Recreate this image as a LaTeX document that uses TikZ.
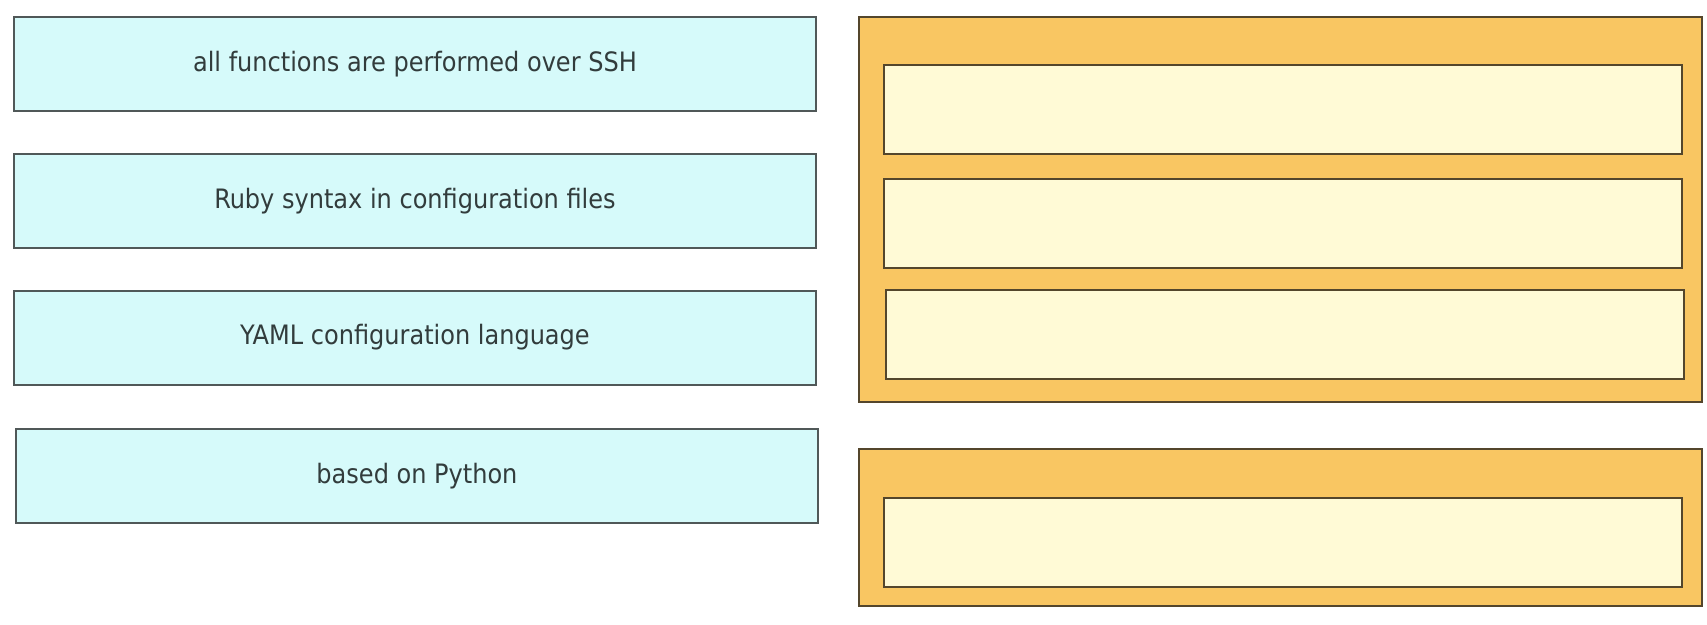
\documentclass[tikz,border=0pt]{standalone}
\usepackage{fontspec}
\setmainfont{DejaVu Sans Condensed}
\usetikzlibrary{calc}

\definecolor{optfill}{RGB}{214,250,250}
\definecolor{optline}{RGB}{80,88,88}
\definecolor{framefill}{RGB}{249,198,98}
\definecolor{slotfill}{RGB}{255,250,214}
\definecolor{slotline}{RGB}{84,70,44}
\definecolor{txtcol}{RGB}{50,60,60}

\begin{document}
\begin{tikzpicture}[x=0.2mm, y=-0.2mm,
    optbox/.style={rectangle, draw=optline, fill=optfill, line width=0.4mm,
      minimum width=160.4mm, minimum height=18.8mm, inner sep=0pt,
      text=txtcol, font=\fontsize{15.2}{18}\selectfont},
    slotframe/.style={rectangle, draw=slotline, fill=framefill, line width=0.3mm,
      minimum width=168.6mm, inner sep=0pt},
    slot/.style={rectangle, draw=slotline, fill=slotfill, line width=0.4mm,
      minimum width=159.6mm, minimum height=17.8mm, inner sep=0pt}]
    \useasboundingbox (0,0) rectangle (1707,624);

    % options on the left
    \node[optbox] (ssh) at (415,64) {all functions are performed over SSH};
    \node[optbox] (ruby) at (415,201) {Ruby syntax in configuration files};
    \node[optbox] (yaml) at (415,337.5) {YAML configuration language};
    \node[optbox] (python) at (417,476) {based on Python};

    % answer areas on the right
    \node[slotframe, minimum height=77mm] (frameA) at (1280.5,209.5) {};
    \node[slot] (slotA1) at (1283,109.5) {};
    \node[slot] (slotA2) at (1283,223.5) {};
    \node[slot] (slotA3) at (1285,334.5) {};

    \node[slotframe, minimum height=31.4mm] (frameB) at (1280.5,527.5) {};
    \node[slot] (slotB1) at (1282.5,542) {};
  \end{tikzpicture}
\end{document}
